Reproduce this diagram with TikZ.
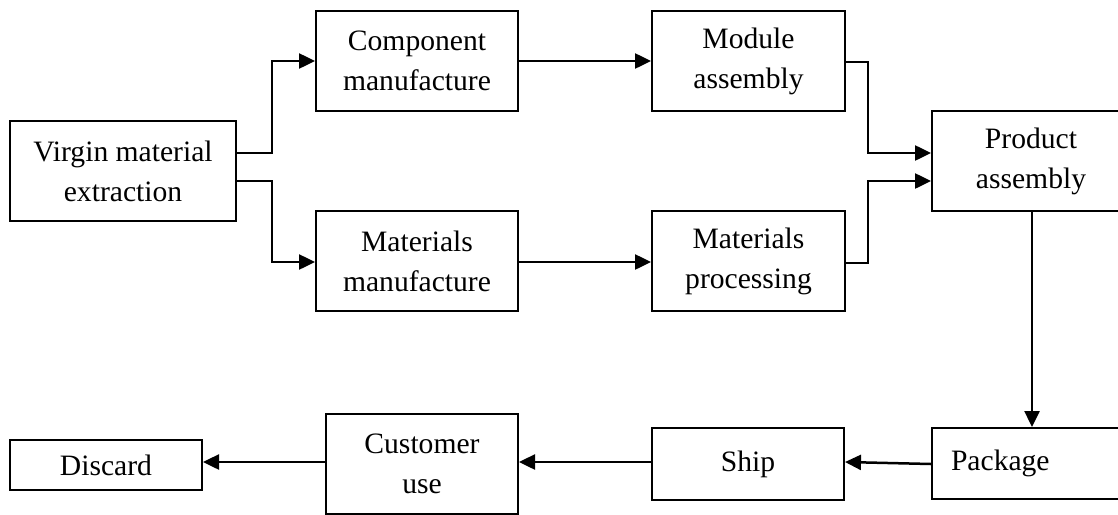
\documentclass[tikz,border=0pt]{standalone}
\usepackage{fontspec}
\setmainfont{Liberation Serif}
\usetikzlibrary{arrows.meta}
\tikzset{
  box/.style={draw, line width=2pt, rectangle, align=center, inner sep=0pt,
    font=\fontsize{29.6}{40}\selectfont},
  conn/.style={line width=2.5pt, -{Triangle[length=16pt,width=15pt]}},
}
\begin{document}
\begin{tikzpicture}[x=1pt,y=-1pt]
\useasboundingbox (0,0) rectangle (1118,514);
\clip (0,0) rectangle (1118,514);
\node[box, minimum width=226pt, minimum height=100pt] (virgin) at (123,171) {Virgin material\\extraction};
\node[box, minimum width=202pt, minimum height=100pt] (comp) at (417,61) {Component\\manufacture};
\node[box, minimum width=193pt, minimum height=100pt] (module) at (748.5,61) {Module\\assembly};
\node[box, minimum width=202pt, minimum height=100pt] (matman) at (417,261) {Materials\\manufacture};
\node[box, minimum width=193pt, minimum height=100pt] (matproc) at (748.5,261) {Materials\\processing};
\node[box, minimum width=198pt, minimum height=100pt] (product) at (1031,161) {Product\\assembly};
\node[box, minimum width=198pt, minimum height=71pt, text width=160pt, align=left, inner xsep=19pt] (package) at (1031,463.5) {Package};
\node[box, minimum width=192pt, minimum height=72pt] (ship) at (748,464) {Ship};
\node[box, minimum width=192pt, minimum height=100pt] (customer) at (422,464) {Customer\\use};
\node[box, minimum width=192pt, minimum height=50pt] (discard) at (106,465) {Discard};

\draw[conn] ([yshift=18pt]virgin.east) -| (272,61) -- (comp.west);
\draw[conn] ([yshift=-10pt]virgin.east) -| (272,262) -- ([yshift=-1pt]matman.west);
\draw[conn] (comp.east) -- (module.west);
\draw[conn] ([yshift=-1pt]matman.east) -- ([yshift=-1pt]matproc.west);
\draw[conn] ([yshift=-1pt]module.east) -| (868,153) -- ([yshift=8pt]product.west);
\draw[conn] ([yshift=-2pt]matproc.east) -| (868,181) -- ([yshift=-20pt]product.west);
\draw[conn] ([xshift=1pt]product.south) -- ([xshift=1pt]package.north);
\draw[conn] ([yshift=-0.5pt]package.west) -- ([yshift=2pt]ship.east);
\draw[conn] ([yshift=2pt]ship.west) -- ([yshift=2pt]customer.east);
\draw[conn] ([yshift=2pt]customer.west) -- ([yshift=3pt]discard.east);
\end{tikzpicture}
\end{document}
